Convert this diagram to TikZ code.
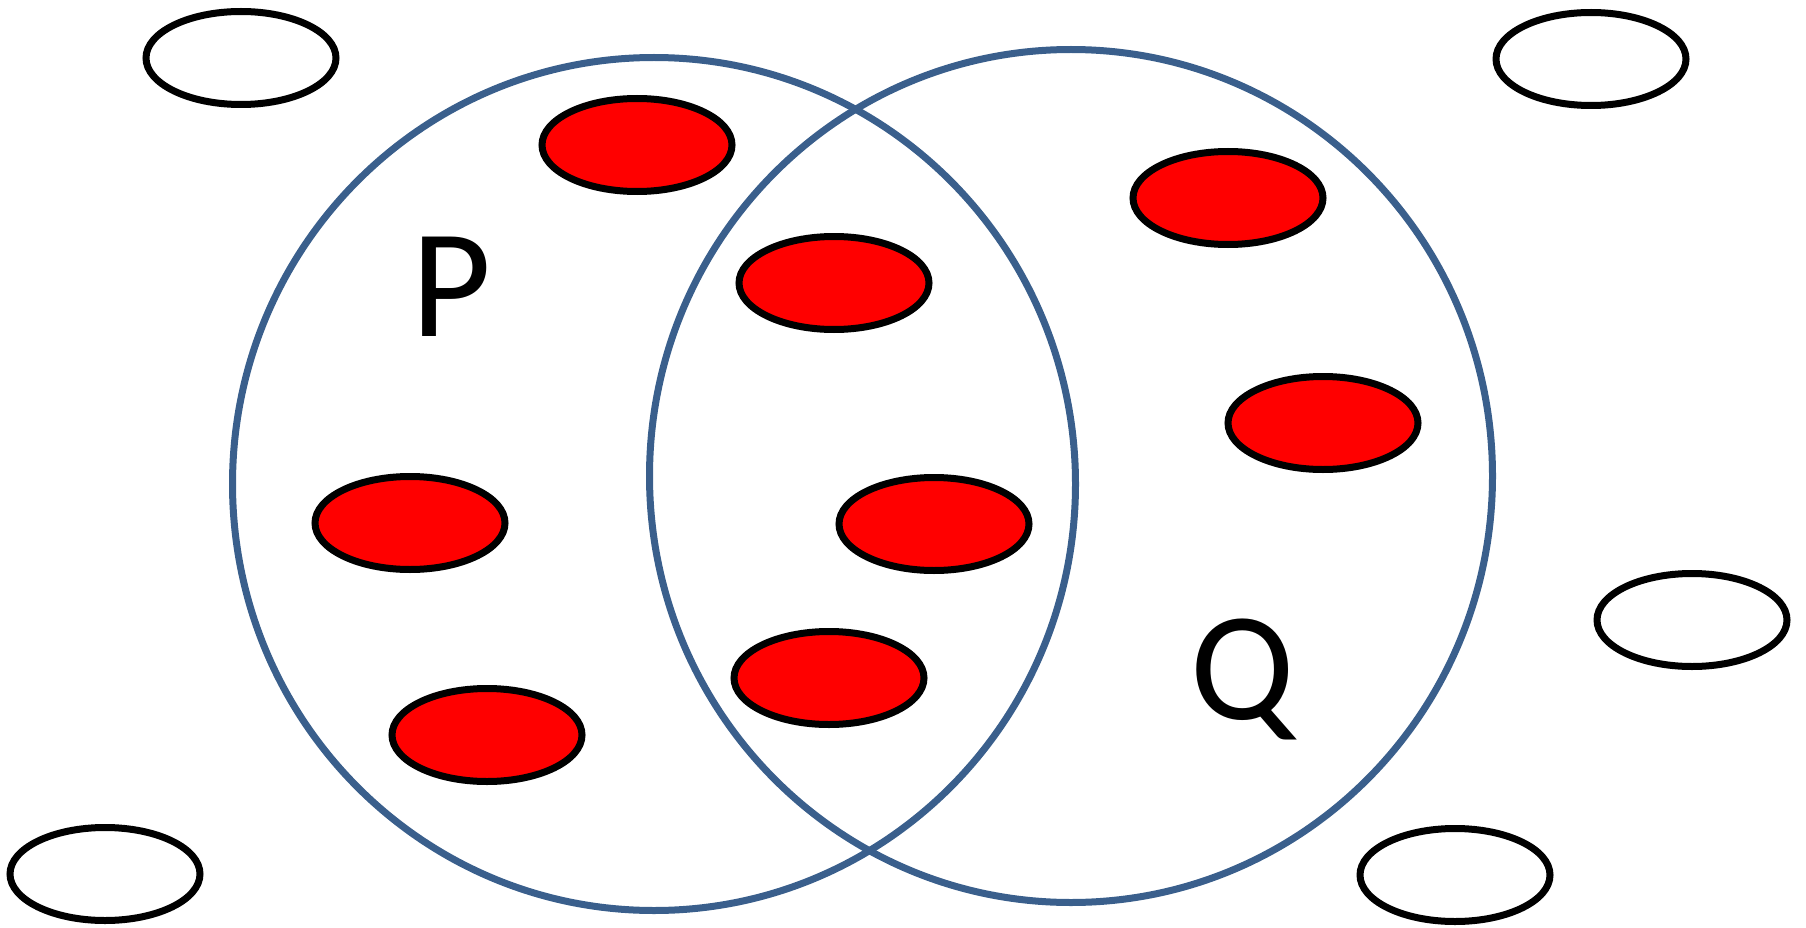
\documentclass[tikz,border=0pt]{standalone}
\usepackage{fontspec}
\setmainfont{Carlito}
\usetikzlibrary{shapes.geometric}

\definecolor{setblue}{RGB}{58,95,140}

\begin{document}
\begin{tikzpicture}[
          x=1pt, y=-1pt,
          elem/.style={ellipse, draw=black, line width=7pt, fill=white,
                       minimum width=190pt, minimum height=93pt, inner sep=0pt},
          inside/.style={elem, fill=red},
          setring/.style={ellipse, draw=setblue, line width=7pt,
                          minimum width=843pt, minimum height=853pt, inner sep=0pt},
          setname/.style={anchor=base, inner sep=0pt,
                          font=\fontsize{155}{160}\selectfont}
        ]
        \useasboundingbox (0,0) rectangle (1806,928);

        % elements outside both sets
        \node[elem] (out1) at (241,58) {};
        \node[elem] (out2) at (1591,59) {};
        \node[elem] (out3) at (1692,620) {};
        \node[elem] (out4) at (105,874) {};
        \node[elem] (out5) at (1455,875) {};

        % elements in P or Q
        \node[inside] (in1) at (637,145) {};
        \node[inside] (in2) at (1228,198) {};
        \node[inside] (in3) at (834,283) {};
        \node[inside] (in4) at (1323,423) {};
        \node[inside] (in5) at (410,523) {};
        \node[inside] (in6) at (934,524) {};
        \node[inside] (in7) at (829,678) {};
        \node[inside] (in8) at (487,735) {};

        % the two sets
        \node[setring] (setP) at (654,484) {};
        \node[setring] (setQ) at (1071,476) {};

        \node[setname] (labelP) at (452,336) {P};
        \node[setname] (labelQ) at (1243,719) {Q};
      \end{tikzpicture}
\end{document}
